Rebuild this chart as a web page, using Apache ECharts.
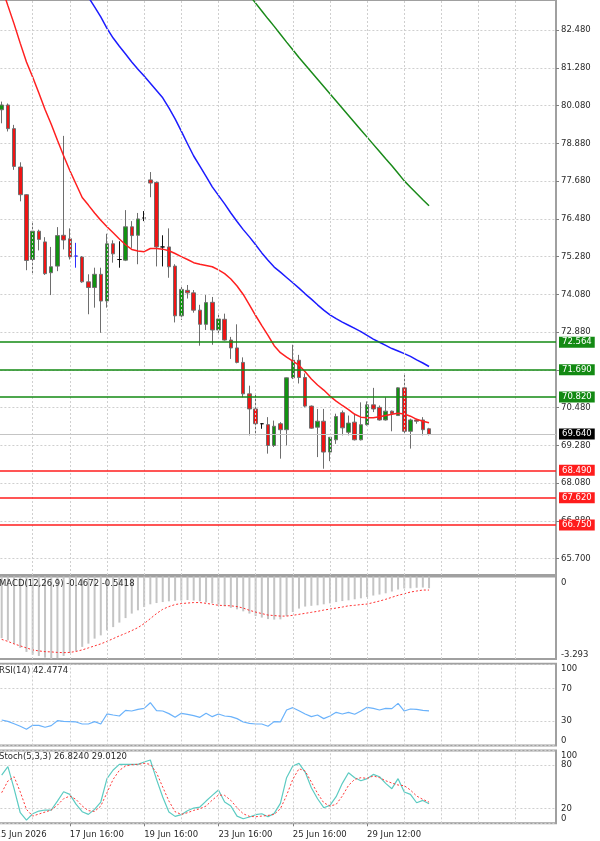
<!DOCTYPE html>
<html><head><meta charset="utf-8">
<script src="https://cdn.jsdelivr.net/npm/echarts@6/dist/echarts.min.js"></script>
<style>html,body{margin:0;padding:0;background:#fff;overflow:hidden;width:600px;height:841px;position:relative}
#c{position:absolute;left:-8px;top:0;width:608px;height:841px}</style>
</head><body><div id="c"></div>
<script>
// ---------------- data ----------------
const dateLabels = ['15 Jun 2026','17 Jun 16:00','19 Jun 16:00','23 Jun 16:00','25 Jun 16:00','29 Jun 12:00'];

const opens  = [79.95,80.10,79.35,78.13,77.25,75.19,76.09,75.75,74.77,74.98,75.96,75.85,75.30,75.27,74.48,74.30,74.72,73.87,75.69,75.19,75.17,76.23,75.96,76.51,77.72,77.64,75.59,75.59,74.98,73.40,74.21,74.13,73.58,73.13,73.83,72.95,73.29,72.63,72.38,71.92,70.92,70.44,69.97,69.94,69.28,69.97,69.78,71.43,71.99,71.44,70.53,69.86,70.05,69.07,69.46,70.32,69.70,70.02,69.46,69.94,70.57,70.49,70.09,70.37,70.23,71.11,69.73,70.09,70.09,69.81];
const closes = [80.10,79.35,78.15,77.25,75.16,76.09,75.83,74.74,74.96,75.95,75.81,75.27,75.30,74.48,74.30,74.72,73.87,75.69,75.37,75.19,76.23,75.95,76.48,76.51,77.62,75.59,75.59,74.96,73.40,74.24,74.13,73.58,73.13,73.82,72.95,73.30,72.63,72.38,71.92,70.92,70.44,69.97,69.97,69.28,69.89,69.78,71.43,71.99,71.44,70.53,69.83,70.05,69.07,69.54,70.20,69.84,69.99,69.46,69.94,70.57,70.44,70.09,70.37,70.29,71.11,69.73,70.09,70.05,69.78,69.64];
const lows   = [79.52,79.26,78.04,77.04,74.85,74.72,75.48,74.70,74.06,74.82,75.51,75.19,74.93,74.45,73.45,73.66,72.86,73.66,75.09,74.93,75.14,75.56,75.04,76.41,77.17,74.97,74.97,74.61,73.19,73.27,73.95,73.50,72.45,72.95,72.48,72.84,72.61,72.03,71.89,70.81,69.60,69.60,69.81,69.02,69.23,68.86,69.28,71.39,71.25,70.49,69.81,68.91,68.54,68.78,69.33,69.60,69.60,69.44,69.44,69.91,70.34,70.07,70.07,69.73,70.23,69.67,69.18,69.97,69.60,69.60];
const highs  = [80.21,80.15,79.47,78.28,77.27,76.38,76.14,75.90,75.59,76.22,79.12,76.18,75.72,75.30,74.72,74.93,74.93,76.01,75.80,75.77,76.76,76.41,76.67,76.73,77.97,77.67,75.96,76.18,75.04,74.38,74.38,74.22,73.75,74.06,74.00,73.46,73.47,72.73,73.13,72.08,71.18,70.92,69.99,70.18,70.07,70.02,71.44,72.48,72.16,71.57,70.55,70.44,70.44,69.54,70.29,70.39,70.23,70.29,70.65,70.68,71.11,70.55,70.81,70.39,71.13,71.55,70.13,70.13,70.18,69.84];

const maRed   = [83.85,83.26,82.68,82.06,81.47,80.99,80.48,79.96,79.49,78.98,78.49,78.02,77.59,77.16,76.92,76.67,76.44,76.23,76.04,75.84,75.66,75.51,75.46,75.44,75.54,75.54,75.52,75.47,75.38,75.28,75.19,75.09,75.04,75.00,74.96,74.86,74.74,74.57,74.35,74.08,73.75,73.41,73.09,72.78,72.45,72.23,72.09,71.96,71.83,71.62,71.39,71.20,71.04,70.85,70.69,70.55,70.42,70.27,70.18,70.16,70.16,70.19,70.23,70.27,70.30,70.28,70.21,70.11,70.05,70.00];
const maBlue  = [null,null,null,null,null,null,null,null,null,null,null,null,84.17,83.85,83.53,83.22,82.90,82.54,82.23,81.97,81.72,81.47,81.24,81.02,80.79,80.56,80.33,80.01,79.66,79.27,78.87,78.48,78.16,77.83,77.50,77.23,76.96,76.67,76.40,76.14,75.91,75.66,75.40,75.17,74.95,74.79,74.62,74.45,74.28,74.10,73.93,73.75,73.58,73.43,73.31,73.20,73.10,73.00,72.90,72.78,72.66,72.56,72.46,72.36,72.28,72.20,72.11,72.00,71.90,71.79];
const maGreen = [null,null,null,null,null,null,null,null,null,null,null,null,null,null,null,null,null,null,null,null,null,null,null,null,null,null,null,null,null,null,null,null,null,null,null,null,null,null,null,83.84,83.59,83.34,83.09,82.84,82.60,82.35,82.10,81.86,81.61,81.38,81.15,80.92,80.69,80.46,80.23,80.00,79.77,79.54,79.31,79.08,78.85,78.62,78.39,78.17,77.93,77.69,77.49,77.29,77.09,76.90];

const resistLevels = [72.564, 71.690, 70.820];
const supportLevels = [68.490, 67.620, 66.750];
const lastPrice = 69.640;

const priceTicks = [65.68,66.88,68.08,69.28,70.48,71.68,72.88,74.08,75.28,76.48,77.68,78.88,80.08,81.28,82.48];
const priceTickLabels = ['65.700','66.880','68.080','69.280','70.480','71.680','72.880','74.080','75.280','76.480','77.680','78.880','80.080','81.280','82.480'];

const macdMain = [-2.46,-2.55,-2.68,-2.85,-3.01,-3.12,-3.17,-3.24,-3.29,-3.26,-3.17,-3.05,-2.97,-2.81,-2.68,-2.48,-2.35,-2.15,-2.02,-1.84,-1.66,-1.48,-1.35,-1.22,-1.11,-1.06,-1.02,-0.99,-0.97,-0.96,-0.94,-0.96,-0.99,-1.03,-1.07,-1.12,-1.19,-1.25,-1.31,-1.39,-1.48,-1.58,-1.64,-1.70,-1.72,-1.71,-1.58,-1.42,-1.28,-1.20,-1.17,-1.15,-1.11,-1.07,-1.02,-0.98,-0.95,-0.91,-0.87,-0.82,-0.76,-0.72,-0.67,-0.60,-0.52,-0.48,-0.47,-0.45,-0.44,-0.4672];
const macdSignal = [-2.51,-2.59,-2.69,-2.77,-2.85,-2.93,-2.97,-3.00,-3.01,-3.03,-3.04,-3.03,-2.99,-2.93,-2.85,-2.77,-2.69,-2.59,-2.48,-2.37,-2.27,-2.16,-2.04,-1.88,-1.68,-1.48,-1.31,-1.20,-1.12,-1.08,-1.06,-1.04,-1.04,-1.07,-1.11,-1.15,-1.16,-1.17,-1.20,-1.26,-1.35,-1.42,-1.48,-1.54,-1.56,-1.58,-1.58,-1.55,-1.51,-1.47,-1.43,-1.39,-1.34,-1.30,-1.26,-1.22,-1.17,-1.15,-1.12,-1.10,-1.04,-0.98,-0.91,-0.83,-0.75,-0.69,-0.62,-0.58,-0.54,-0.5418];
const macdMin = -3.293, macdMax = 0;

const rsi = [31.2,29.6,26.7,23.5,19.8,24.7,24.7,22.3,24.3,30.4,29.6,29.2,28.8,26.3,26.3,29.2,26.3,38.6,37.3,36.1,43.0,42.2,44.3,45.5,52.4,42.6,42.2,39.0,34.5,39.4,38.2,36.5,34.5,39.4,35.3,38.6,36.1,35.3,32.9,28.8,27.1,26.3,26.3,23.5,29.2,28.8,43.5,46.3,42.6,38.6,35.3,37.3,32.9,36.1,40.6,38.6,40.6,38.2,42.2,46.7,45.5,43.5,45.5,45.1,51.6,42.2,44.7,44.3,43.0,42.4774];
const rsiTicks = [0,30,70,100];

const stochK = [66.2,77.7,47.5,14.5,4.4,13.1,16.8,18.2,18.2,30.5,43.3,39.7,26.4,15.9,12.2,19.1,29.2,61.2,73.1,80.9,80.9,80.9,80.9,84.1,86.8,60.3,36.0,15.4,9.5,11.8,17.3,20.9,22.3,30.5,38.3,45.6,29.2,23.7,9.9,6.3,8.6,11.8,13.1,9.0,13.6,27.3,62.6,78.6,82.2,70.3,48.8,33.7,21.4,24.6,36.5,54.8,69.4,62.6,58.4,61.2,67.1,63.9,54.8,47.5,61.2,42.9,39.7,28.2,31.4,26.824];
const stochD = [42.0,58.0,63.9,42.9,19.1,9.9,12.7,15.4,18.2,25.0,33.7,37.4,32.8,23.7,17.3,16.3,23.7,42.0,60.3,72.6,78.6,80.4,80.9,82.2,80.9,69.4,49.7,30.5,15.9,12.2,14.5,17.7,20.0,23.7,31.9,38.8,38.3,31.4,21.4,13.1,9.5,9.0,9.9,10.8,12.2,20.0,38.3,60.3,74.9,71.7,56.6,41.1,28.2,23.7,25.9,37.4,52.0,60.3,62.6,61.6,64.9,62.6,58.4,55.2,52.5,51.6,45.6,37.4,32.8,29.012];
const stochTicks = [0,20,80,100];

// ---------------- layout / styling ----------------
const FONT = 'DejaVu Sans';
const TXT = '#2a2a2a';
const FS = 8.5;
const SHIFT = 8; // the chart canvas is placed 8px left of the page edge
const SLOTS = 91, LEAD = 1;
const cats = Array.from({length: SLOTS}, (_, s) => 's' + s);
const toSlots = arr => { const o = new Array(SLOTS).fill(null); arr.forEach((v, i) => { o[i + LEAD] = v; }); return o; };
const candleData = [['-','-','-','-']];
opens.forEach((o, i) => {
  const v = [o, closes[i], lows[i], highs[i]];
  if (i === 12) candleData.push({value: v, itemStyle: {borderColor: '#2f2fff', borderColor0: '#2f2fff', borderColorDoji: '#2f2fff'}});
  else candleData.push(v);
});
const vGrid = []; for (let s = 6; s <= 84; s += 6) vGrid.push(s);
const GL = -7.6 + SHIFT, GW = 563.6;
const BORDER = '#a0a0a0';
const gridDash = {color: '#cfcfcf', type: [2, 2], width: 1};

const grids = [
  {left: GL, width: GW, top: -2, height: 577},
  {left: GL, width: GW, top: 576.5, height: 82.5},
  {left: GL, width: GW, top: 663.8, height: 81.7},
  {left: GL, width: GW, top: 750.4, height: 72.9}
].map(g => Object.assign(g, {show: true, borderColor: BORDER, borderWidth: 2, backgroundColor: 'transparent'}));

const labelIdx = idx => idx % 12 === 0 && idx / 12 < dateLabels.length;
const xAxes = [0,1,2,3].map(k => ({
  type: 'category', gridIndex: k, data: cats, boundaryGap: true,
  axisLine: {show: false},
  axisTick: k === 3 ? {show: true, alignWithLabel: true, interval: labelIdx, length: 3, lineStyle: {color: '#808080'}} : {show: false},
  axisLabel: k === 3 ? {show: true, interval: labelIdx, formatter: (v, idx) => dateLabels[idx / 12] || '', align: 'left', margin: 7,
    color: TXT, fontSize: FS, fontFamily: FONT} : {show: false},
  splitLine: {show: false}
}));

const edgeRich = (pt, pb) => ({t: {padding: [pt, 0, 0, 0], color: TXT, fontSize: FS, fontFamily: FONT}, b: {padding: [0, 0, pb, 0], color: TXT, fontSize: FS, fontFamily: FONT}});
const lblBase = {color: TXT, fontSize: FS, fontFamily: FONT, margin: 5};

const yAxes = [
  {type: 'value', gridIndex: 0, position: 'right', min: 65.162, max: 83.439,
   axisLine: {show: false},
   axisTick: {show: true, length: 3, customValues: priceTicks, lineStyle: {color: '#808080'}},
   axisLabel: Object.assign({customValues: priceTicks, formatter: v => {
     const k = priceTicks.findIndex(t => Math.abs(t - v) < 1e-6); return k >= 0 ? priceTickLabels[k] : ''; }}, lblBase),
   splitLine: {show: true, lineStyle: gridDash}},
  {type: 'value', gridIndex: 1, position: 'right', min: macdMin, max: macdMax,
   axisLine: {show: false}, axisTick: {show: false},
   axisLabel: Object.assign({customValues: [macdMin, macdMax], formatter: v => v === macdMax ? '{t|0}' : '{b|' + macdMin.toFixed(3) + '}', rich: edgeRich(12, 8)}, lblBase),
   splitLine: {show: false}},
  {type: 'value', gridIndex: 2, position: 'right', min: 0, max: 100,
   axisLine: {show: false}, axisTick: {show: false, customValues: rsiTicks},
   axisLabel: Object.assign({customValues: rsiTicks, formatter: v => v === 100 ? '{t|100}' : v === 0 ? '{b|0}' : String(v), rich: edgeRich(10, 9)}, lblBase),
   splitLine: {show: true, lineStyle: gridDash}},
  {type: 'value', gridIndex: 3, position: 'right', min: 0, max: 100,
   axisLine: {show: false}, axisTick: {show: false, customValues: stochTicks},
   axisLabel: Object.assign({customValues: stochTicks, formatter: v => v === 100 ? '{t|100}' : v === 0 ? '{b|0}' : String(v), rich: edgeRich(10, 10)}, lblBase),
   splitLine: {show: true, lineStyle: gridDash}}
];

const vGridSeries = [0,1,2,3].map(k => ({
  type: 'line', xAxisIndex: k, yAxisIndex: k, data: [], silent: true, z: 1,
  markLine: {silent: true, symbol: ['none','none'], animation: false, label: {show: false}, lineStyle: gridDash,
    data: vGrid.map(s => ({xAxis: s}))}
}));

const lvl = (v, col, lineCol, w) => ({yAxis: v, lineStyle: {color: lineCol, width: w, type: 'solid'}, label: {backgroundColor: col}});
const GREEN = '#138a13', RED = '#ff1c1c';
const levelSeries = {
  type: 'line', xAxisIndex: 0, yAxisIndex: 0, data: [], clip: false, silent: true, z: 6,
  markLine: {silent: true, symbol: ['none','none'], precision: 3, animation: false,
    label: {show: true, position: 'end', distance: 3, color: '#fff', fontSize: FS, fontFamily: FONT, padding: [1,3,0,3], lineHeight: 10,
      formatter: p => Number(p.value).toFixed(3)},
    data: [lvl(lastPrice, '#000', '#c4c4c4', 1)]
      .concat(resistLevels.map(v => lvl(v, GREEN, GREEN, 1.5)))
      .concat(supportLevels.map(v => lvl(v, RED, RED, 1.5)))}
};

const lineS = (k, data, color, width, type, z) => ({type: 'line', xAxisIndex: k, yAxisIndex: k, data: toSlots(data), showSymbol: false, symbol: 'none',
  smooth: false, lineStyle: {color, width, type: type || 'solid'}, z: z || 4, silent: true});

const titleStyle = {fontSize: FS, fontWeight: 'normal', color: TXT, fontFamily: FONT, lineHeight: 11};
const f4 = v => v.toFixed(4);
const TL = -1 + SHIFT;
const titles = [
  {text: 'MACD(12,26,9) ' + f4(macdMain[macdMain.length-1]) + ' ' + f4(macdSignal[macdSignal.length-1]), left: TL, top: 578.2, padding: 0, textStyle: titleStyle},
  {text: 'RSI(14) ' + f4(rsi[rsi.length-1]), left: TL, top: 665.2, padding: 0, textStyle: titleStyle},
  {text: 'Stoch(5,3,3) ' + f4(stochK[stochK.length-1]) + ' ' + f4(stochD[stochD.length-1]), left: TL, top: 751.5, padding: 0, textStyle: titleStyle}
];

const option = {
  animation: false,
  backgroundColor: '#ffffff',
  textStyle: {fontFamily: FONT},
  title: titles,
  grid: grids,
  xAxis: xAxes,
  yAxis: yAxes,
  series: vGridSeries.concat([
    {type: 'candlestick', xAxisIndex: 0, yAxisIndex: 0, data: candleData, barWidth: 4, z: 3, silent: true,
     itemStyle: {color: '#119211', color0: '#f01414', borderColor: '#6e6e6e', borderColor0: '#6e6e6e', borderColorDoji: '#111111', borderWidth: 1}},
    lineS(0, maRed, '#ff2020', 1.5, 'solid', 4),
    lineS(0, maBlue, '#1c1cff', 1.5, 'solid', 4),
    lineS(0, maGreen, '#1a8a1a', 1.5, 'solid', 4),
    levelSeries,
    {type: 'bar', xAxisIndex: 1, yAxisIndex: 1, data: toSlots(macdMain), barWidth: 2, itemStyle: {color: '#c4c4c4'}, z: 2, silent: true},
    lineS(1, macdSignal, '#ff3030', 1, [2, 2], 4),
    lineS(2, rsi, '#6ab2fb', 1.2, 'solid', 4),
    lineS(3, stochK, '#5ccbc2', 1.2, 'solid', 4),
    lineS(3, stochD, '#ff3a3a', 1, [2, 2], 5)
  ])
};

const chart = echarts.init(document.getElementById('c'), null, {renderer: 'canvas', width: 608, height: 841});
chart.setOption(option);
</script>
</body></html>
